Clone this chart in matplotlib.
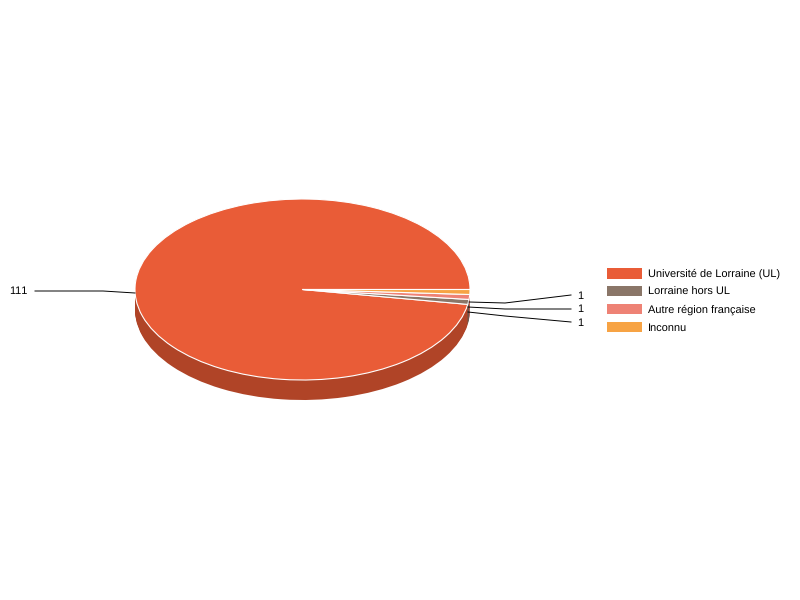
import matplotlib
matplotlib.use('Agg')
import matplotlib.pyplot as plt

plt.rcParams['font.family'] = ['Liberation Sans', 'DejaVu Sans']
plt.rcParams['text.hinting'] = 'no_hinting'
plt.rcParams['text.hinting_factor'] = 1

categories = ['Université de Lorraine (UL)', 'Lorraine hors UL', 'Autre région française', 'Inconnu']
values = [111, 1, 1, 1]
colors = ['#E95C37', '#8A7668', '#EE8275', '#F7A344']
side_colors = ['#B04427', '#67584E', '#B26157', '#B97A33']

# pie geometry in pixels
W, H = 800, 600
cx, cy = 302.5, 289.5
rx, ry = 167.5, 90.5
depth = 20


def px(x, y):
    # pixel position of the reference -> data coords of the axes
    return (x - cx) / rx, (cy - y) / ry


fig = plt.figure(figsize=(8, 6), dpi=100)
ax = fig.add_axes([0, 0, 1, 1])

# side of the pie: darker pies stacked one pixel apart
for d in range(depth, 0, -1):
    ax.pie(values, colors=side_colors, startangle=0, center=(0, -d / ry), radius=1,
           wedgeprops={'linewidth': 0})

wedges, _ = ax.pie(values, colors=colors, startangle=0, center=(0, 0), radius=1,
                   wedgeprops={'edgecolor': 'white', 'linewidth': 0.8})

# leader lines and value labels
leaders = [
    ([(135, 293), (103, 291), (35, 291)], (28, 291), 'right'),
    ([(469, 302), (505, 303), (571, 295)], (577.5, 296), 'left'),
    ([(468, 307), (505, 309), (571, 309)], (577.5, 309.5), 'left'),
    ([(468, 312), (505, 316), (571, 322)], (577.5, 323), 'left'),
]
for (pts, pos, ha), lab in zip(leaders, values):
    xy = [px(*p) for p in pts]
    ax.plot([p[0] for p in xy], [p[1] for p in xy], color='black', linewidth=0.7, clip_on=False)
    tx, ty = px(*pos)
    ax.text(tx, ty, str(lab), ha=ha, va='center', fontsize=7.9, color='black')

ax.set_aspect('auto')
ax.set_xlim(px(0, 0)[0], px(W, 0)[0])
ax.set_ylim(px(0, H)[1], px(0, 0)[1])

fs_px = 7.9 * 100 / 72
ax.legend(wedges, categories, loc='upper left', bbox_to_anchor=(607 / W, 1 - 268 / H),
          bbox_transform=fig.transFigure, frameon=False, fontsize=7.9, borderpad=0, borderaxespad=0,
          handlelength=35 / fs_px, handleheight=1.1, handletextpad=6 / fs_px, labelspacing=0.6)
for h in ax.get_legend().legend_handles:
    h.set_edgecolor('none')

fig.savefig('out.png', dpi=100)
